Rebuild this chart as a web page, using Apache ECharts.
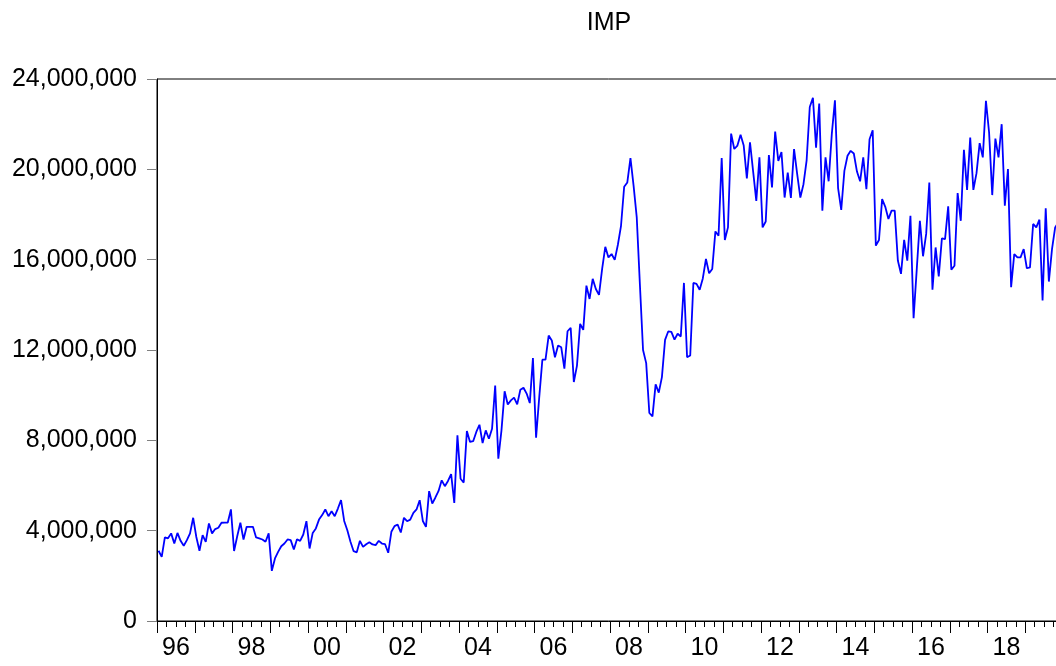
<!DOCTYPE html>
<html>
<head>
<meta charset="utf-8">
<title>IMP</title>
<script src="https://cdn.jsdelivr.net/npm/echarts@6/dist/echarts.min.js"></script>
<style>
    html, body { margin: 0; padding: 0; background: #fff; overflow: hidden; }
    #main { width: 1070px; height: 666px; }
</style>
</head>
<body>
<div id="main"></div>
<script>
// monthly series, 1996M01 onwards (millions)
const startYear = 1996;
const impMillions = [
    3.11, 2.84, 3.70, 3.66, 3.88, 3.43, 3.90, 3.55, 3.33, 3.58, 3.88, 4.57,
    3.72, 3.11, 3.80, 3.50, 4.32, 3.88, 4.07, 4.13, 4.35, 4.36, 4.36, 4.94,
    3.10, 3.75, 4.35, 3.61, 4.17, 4.17, 4.17, 3.70, 3.66, 3.61, 3.51, 3.88,
    2.22, 2.77, 3.06, 3.31, 3.43, 3.61, 3.58, 3.17, 3.62, 3.55, 3.83, 4.42,
    3.21, 3.90, 4.10, 4.49, 4.69, 4.94, 4.64, 4.86, 4.64, 4.98, 5.35, 4.43,
    4.02, 3.51, 3.09, 3.04, 3.55, 3.28, 3.40, 3.49, 3.39, 3.36, 3.55, 3.43,
    3.40, 3.02, 3.95, 4.20, 4.27, 3.92, 4.57, 4.42, 4.49, 4.79, 4.94, 5.35,
    4.43, 4.17, 5.75, 5.20, 5.47, 5.76, 6.23, 5.97, 6.20, 6.50, 5.23, 8.22,
    6.30, 6.13, 8.41, 7.93, 7.96, 8.37, 8.69, 7.88, 8.44, 8.07, 8.51, 10.43,
    7.19, 8.44, 10.17, 9.59, 9.77, 9.89, 9.59, 10.24, 10.33, 10.07, 9.65, 11.64,
    8.12, 9.90, 11.57, 11.57, 12.64, 12.42, 11.68, 12.20, 12.12, 11.17, 12.83, 12.98,
    10.58, 11.31, 13.16, 12.89, 14.85, 14.26, 15.15, 14.70, 14.44, 15.59, 16.57, 16.10,
    16.25, 15.99, 16.66, 17.50, 19.23, 19.42, 20.50, 19.27, 17.87, 14.90, 12.00, 11.42,
    9.21, 9.06, 10.48, 10.11, 10.80, 12.45, 12.82, 12.80, 12.46, 12.72, 12.60, 14.97,
    11.68, 11.76, 14.97, 14.93, 14.67, 15.17, 16.03, 15.40, 15.59, 17.25, 17.06, 20.50,
    16.87, 17.43, 21.58, 20.90, 21.05, 21.53, 21.05, 19.60, 21.20, 19.90, 18.60, 20.53,
    17.43, 17.69, 20.63, 19.20, 21.67, 20.37, 20.77, 18.75, 19.86, 18.73, 20.90, 19.79,
    18.75, 19.34, 20.40, 22.76, 23.17, 20.96, 22.91, 18.17, 20.53, 19.47, 21.56, 23.06,
    19.17, 18.20, 19.93, 20.60, 20.82, 20.70, 19.90, 19.47, 20.53, 19.12, 21.33, 21.73,
    16.62, 16.87, 18.68, 18.34, 17.80, 18.17, 18.17, 15.96, 15.37, 16.88, 15.96, 17.94,
    13.41, 15.56, 17.72, 16.15, 17.14, 19.42, 14.67, 16.54, 15.26, 16.94, 16.91, 18.36,
    15.56, 15.73, 18.95, 17.72, 20.86, 19.09, 21.41, 19.09, 19.83, 21.16, 20.53, 23.03,
    21.63, 18.86, 21.36, 20.53, 22.00, 18.39, 20.01, 14.78, 16.25, 16.10, 16.10, 16.47,
    15.62, 15.66, 17.58, 17.43, 17.77, 14.19, 18.27, 15.03, 16.47, 17.43, 17.65
];
const yTicks = [0, 4000000, 8000000, 12000000, 16000000, 20000000, 24000000];

// each month sits in the middle of its slot on a year scale
const seriesData = impMillions.map((v, i) => [startYear + (i + 0.5) / 12, v * 1e6]);

const font = '"Liberation Sans", Arial, sans-serif';
const chart = echarts.init(document.getElementById('main'));
chart.setOption({
    animation: false,
    title: {
        text: 'IMP',
        left: 604,
        top: 6,
        textAlign: 'center',
        textStyle: { fontFamily: font, fontSize: 25, fontWeight: 'normal', color: '#000' }
    },
    grid: {
        left: 157, top: 79, right: 10, bottom: 45,
        show: true, borderColor: '#000', borderWidth: 1
    },
    xAxis: {
        type: 'value',
        min: startYear,
        max: 2019.92,
        interval: 1,
        axisLine: { lineStyle: { color: '#000', width: 1 } },
        axisTick: { length: 12, lineStyle: { color: '#000' } },
        minorTick: { show: true, splitNumber: 4, length: 6, lineStyle: { color: '#000' } },
        splitLine: { show: false },
        axisLabel: {
            margin: 15,
            padding: [0, 0, 0, 38],
            fontFamily: font,
            fontSize: 25,
            color: '#000',
            showMaxLabel: false,
            formatter: v => (Number.isInteger(v) && v % 2 === 0 ? String(v).slice(2) : '')
        }
    },
    yAxis: {
        type: 'value',
        min: yTicks[0],
        max: yTicks[yTicks.length - 1],
        interval: yTicks[1] - yTicks[0],
        axisLine: { show: true, lineStyle: { color: '#000', width: 1 } },
        axisTick: { show: true, length: 10, lineStyle: { color: '#808080' } },
        splitLine: { show: false },
        axisLabel: {
            margin: 20,
            fontFamily: font,
            fontSize: 25,
            color: '#000',
            formatter: v => v.toLocaleString('en-US')
        }
    },
    series: [{
        name: 'IMP',
        type: 'line',
        data: seriesData,
        showSymbol: false,
        lineStyle: { color: '#0000ff', width: 1.8 },
        clip: true
    }]
});
</script>
</body>
</html>
